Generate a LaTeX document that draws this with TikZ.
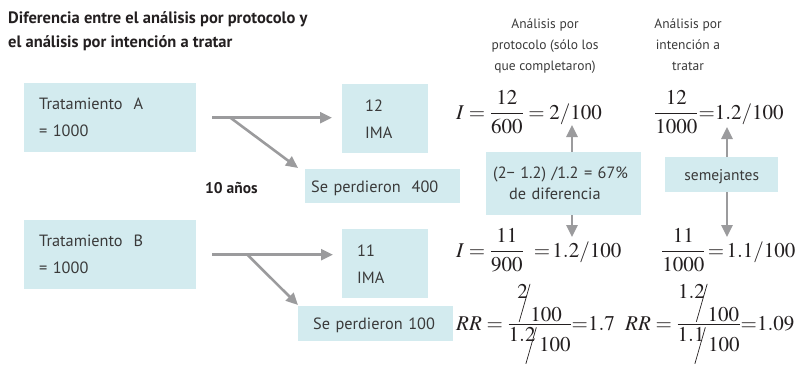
\documentclass[tikz,border=0pt]{standalone}
\usepackage{amsmath}
\usepackage{mathptmx}
\usepackage{fontspec}
\setmainfont{Liberation Serif}
\setsansfont{PT Sans}
\usepackage{graphicx}
\usetikzlibrary{arrows.meta,positioning}

\definecolor{boxblue}{HTML}{D3EBEF}
\definecolor{arrgray}{HTML}{9B9B9D}
\definecolor{txtgray}{HTML}{3A3A3A}
\definecolor{ink}{HTML}{231F20}

% slanted bar for the stacked fractions
\newcommand{\slsh}[1]{\rotatebox{-16}{\rule{0.7pt}{#1}}}
\newcommand{\slnum}[2]{\raisebox{1.12em}{$#1$}\kern-9pt\slsh{39.5pt}#2}
\newcommand{\slden}[2]{\rule{0pt}{1.21em}\raisebox{0.48em}{$#1$}\kern-10pt\raisebox{-12.3pt}{\slsh{38pt}}\,#2}
\newcommand{\rrfrac}[2]{{\textstyle\frac{\displaystyle #1}{\displaystyle #2}}}

\tikzset{
  box/.style={fill=boxblue, anchor=north west, inner ysep=0pt, align=left, text=txtgray,
    font=\sffamily\fontsize{16.3}{27}\selectfont},
  arr/.style={draw=arrgray, line width=2.6pt, -{Triangle[length=12pt,width=11pt]}},
  head/.style={align=center, text=txtgray, anchor=north, inner sep=0pt,
    font=\sffamily\fontsize{13.5}{21}\selectfont},
  frml/.style={anchor=base west, inner sep=0pt, text=ink, font=\fontsize{21}{25}\selectfont},
}

\begin{document}
\begin{tikzpicture}[x=1pt,y=-1pt]
 \useasboundingbox (0,0) rectangle (797,364);
 % title and column heads
 \node[anchor=north west, inner sep=0pt, align=left, text=ink,
   font=\sffamily\bfseries\fontsize{16.5}{24}\selectfont] (ttl) at (8,11)
   {Diferencia entre el análisis por protocolo y\\el análisis por intención a tratar};
 \node[head] (hdP) at (545,19) {Análisis por\\protocolo (sólo los\\que completaron)};
 \node[head] (hdI) at (688,19) {Análisis por\\intención a\\tratar};

 % boxes
 \node[box, minimum width=172pt, minimum height=69pt, inner xsep=15pt, text width=142pt] (trtA) at (24,83) {Tratamiento~~A\\= 1000};
 \node[box, minimum width=86pt, minimum height=69pt, inner xsep=23pt, text width=40pt] (imaA) at (342,84) {12\\IMA};
 \node[box, minimum width=155pt, minimum height=34pt, inner xsep=6pt, text width=143pt, text depth=0pt] (perA) at (305,169) {Se perdieron~~400};
 \node[box, minimum width=172pt, minimum height=69pt, inner xsep=15pt, text width=142pt] (trtB) at (24,220) {Tratamiento~~B\\= 1000};
 \node[box, minimum width=86pt, minimum height=69pt, inner xsep=15pt, text width=56pt] (imaB) at (342,229) {11\\IMA};
 \node[box, minimum width=155pt, minimum height=35pt, inner xsep=15pt, text width=125pt, text depth=0pt] (perB) at (298,306) {Se perdieron 100};
 \node[box, minimum width=155pt, minimum height=63pt, inner xsep=7pt, text width=141pt,
   font=\sffamily\fontsize{16.3}{21}\selectfont] (dif) at (486,152) {(2− 1.2) /1.2 = 67\%\\\hspace*{16pt}de diferencia};
 \node[box, minimum width=113pt, minimum height=35pt, inner xsep=0pt, text width=113pt, align=center,
   text depth=0pt, font=\sffamily\fontsize{15.5}{18}\selectfont] (sem) at (665,157) {semejantes};
 \node[anchor=base west, inner sep=0pt, text=ink, font=\sffamily\bfseries\fontsize{15.5}{18}\selectfont] (yrs) at (205,193) {10 años};

 % formulas
 \node[frml] (fPA) at (456,119) {$I = \dfrac{12}{600} = 2/100$};
 \node[frml] (fIA) at (654,119) {$\dfrac{12}{1000} {=} 1.2/100$};
 \node[frml] (fPB) at (456,257) {$I = \dfrac{11}{900}\hspace{10pt}{=}\,1.2/100$};
 \node[frml] (fIB) at (661,257) {$\dfrac{11}{1000}\,{=}\,1.1/100$};
 \node[frml] (rrP) at (456,330) {$RR = \rrfrac{\slnum{2}{100}}{\slden{1.2}{100}} {=} 1.7$};
 \node[frml] (rrI) at (625,330) {$RR = \rrfrac{\slnum{1.2}{100}}{\slden{1.1}{100}} {=} 1.09$};

 % connectors
 \coordinate (splA) at ([xshift=34pt]trtA.east);
 \coordinate (splB) at ([xshift=51pt]trtB.east);
 \draw[arr] ([xshift=16pt]trtA.east) -- ([xshift=-10pt]imaA.west |- trtA.east);
 \draw[arr] (splA) -- ([shift={(-7pt,1pt)}]perA.north west);
 \draw[arr] ([xshift=16pt]trtB.east) -- ([xshift=-9pt]imaB.west |- trtB.east);
 \draw[arr] (splB) -- ([yshift=1pt]perB.north west);
 \coordinate (upP) at (572,125);
 \coordinate (dnP) at (572,237);
 \coordinate (upI) at (727,127);
 \coordinate (dnI) at (727,237);
 \draw[arr] (upP |- dif.north) -- (upP);
 \draw[arr] (dnP |- dif.south) -- (dnP);
 \draw[arr] (upI |- sem.north) -- (upI);
 \draw[arr] (dnI |- sem.south) -- (dnI);
\end{tikzpicture}
\end{document}
